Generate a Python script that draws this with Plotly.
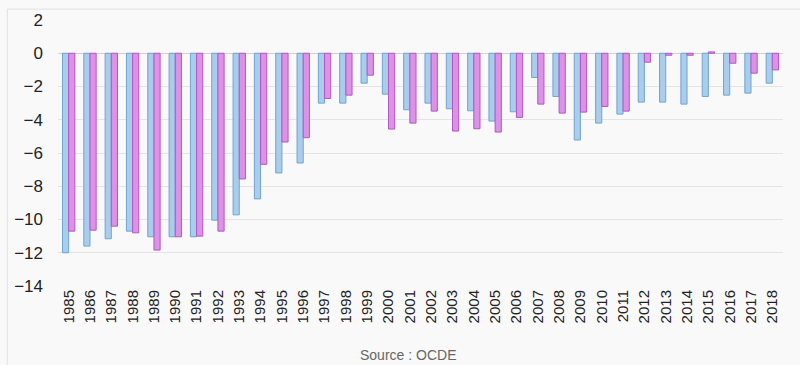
import plotly.graph_objects as go

years = [str(y) for y in range(1985, 2019)]
serie_a = [-12.0, -11.6, -11.16, -10.7, -11.04, -11.04, -11.04, -10.04, -9.72, -8.76,
           -7.2, -6.6, -3.0, -3.0, -1.8, -2.46, -3.4, -3.0, -3.34, -3.46,
           -4.08, -3.52, -1.46, -2.6, -5.22, -4.2, -3.66, -2.94, -2.94, -3.06,
           -2.6, -2.52, -2.4, -1.8]
serie_b = [-10.7, -10.64, -10.4, -10.8, -11.84, -11.04, -11.0, -10.7, -7.56, -6.68,
           -5.34, -5.08, -2.72, -2.52, -1.32, -4.56, -4.2, -3.48, -4.68, -4.54,
           -4.74, -3.86, -3.06, -3.6, -3.54, -3.2, -3.48, -0.54, -0.12, -0.12,
           0.08, -0.6, -1.2, -1.0]
y_ticks = [2, 0, -2, -4, -6, -8, -10, -12, -14]

fig = go.Figure()
fig.add_trace(go.Bar(x=years, y=serie_a, name="A",
                     marker=dict(color="#a9cdea", line=dict(color="#6fa5d2", width=1))))
fig.add_trace(go.Bar(x=years, y=serie_b, name="B",
                     marker=dict(color="#dc92e7", line=dict(color="#b257c4", width=1))))

fig.update_layout(
    width=800, height=365,
    margin=dict(l=58, r=17, t=20, b=79),
    paper_bgcolor="#f9f9f9", plot_bgcolor="#f9f9f9",
    barmode="group", bargap=0.42, bargroupgap=0,
    showlegend=False,
    font=dict(family="Liberation Sans, Arial, sans-serif", color="#333333"),
    xaxis=dict(tickangle=-90, tickfont=dict(size=15, color="#222222"),
               showgrid=False, showline=False, ticks=""),
    yaxis=dict(range=[-14, 2], tickvals=y_ticks, tickfont=dict(size=17, color="#222222"),
               gridcolor="#e4e4e4", gridwidth=1, zeroline=True, zerolinecolor="#d8d0c8",
               zerolinewidth=1, showline=False, ticks="", ticklabelstandoff=14),
    annotations=[dict(text="Source : OCDE", xref="paper", yref="paper", x=0.483, y=-0.26,
                      showarrow=False, font=dict(size=14, color="#666666"),
                      xanchor="center", yanchor="middle")],
    shapes=[dict(type="rect", xref="paper", yref="paper", x0=-0.07, x1=1.03, y0=-0.4, y1=1.041,
                 line=dict(color="#e0e0e0", width=1), fillcolor="rgba(0,0,0,0)", layer="below")],
)

fig.write_html("out.html", config={"displayModeBar": False},
               post_script="document.body.style.margin='0';document.body.style.background='#f9f9f9';")
